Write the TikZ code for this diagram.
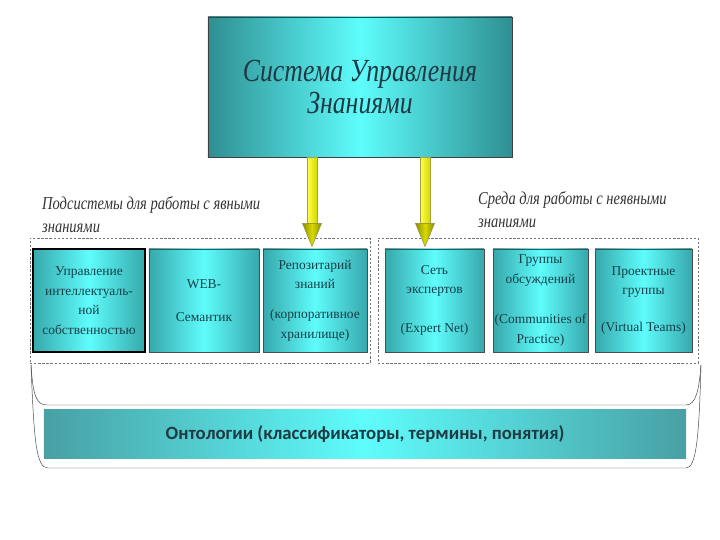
\documentclass[tikz,border=0pt]{standalone}
\usepackage{fontspec}
\setmainfont{Liberation Serif}
\newfontfamily\bandfont{Carlito}
\newfontfamily\narrowit[FakeStretch=0.8]{Liberation Serif Italic}
\definecolor{boxedge}{RGB}{55,168,172}
\definecolor{boxmid}{RGB}{95,252,252}
\definecolor{bandedge}{RGB}{72,160,164}
\definecolor{boxtext}{RGB}{22,62,72}
\definecolor{titletext}{RGB}{30,58,68}
\begin{document}
\begin{tikzpicture}[
    x=0.03cm, y=-0.03cm,
    every node/.style={align=center},
    box/.style={rectangle, draw=black!70, thin, left color=boxedge, right color=boxedge, middle color=boxmid,
        minimum height=3.09cm, inner xsep=1pt, text=boxtext, font=\fontsize{11.5}{16.6}\selectfont},
    grp/.style={rectangle, draw=black!55, dash pattern=on 2pt off 1.5pt, minimum height=3.75cm, inner sep=0pt},
    lbl/.style={anchor=west, align=left, text=black!80, font=\narrowit\fontsize{15.5}{19.5}\selectfont},
    shaft/.style={draw=yellow!60!black, thin, left color=yellow!70!white, right color=yellow!85!black},
    head/.style={draw=yellow!50!black, thin, left color=yellow!55!black, right color=yellow!55!black, middle color=yellow!85!black},
    brace/.style={draw=black!75, thin}
]
\useasboundingbox (0,0) rectangle (720,540);
% main system
\node[rectangle, draw=black!75, thick, left color=boxedge!85!black, right color=boxedge!85!black, middle color=boxmid,
    minimum width=9.12cm, minimum height=4.2cm, text=titletext, font=\narrowit\fontsize{27.5}{27}\selectfont]
    (kms) at (360,87) {Система Управления\\Знаниями};

% group labels
\node[lbl] (explbl) at (38,215) {Подсистемы для работы с явными\\знаниями};
\node[lbl] (tacitlbl) at (474,210) {Среда для работы с неявными\\знаниями};

% dashed groups
\node[grp, minimum width=10.2cm] (expl) at (200,300.5) {};
\node[grp, minimum width=9.6cm] (tacit) at (538,300.5) {};

% subsystems
\node[box, minimum width=3.36cm, draw=black, line width=1.1pt] (ipm) at (89,300.5)
    {Управление\\интеллектуаль-\\ной\\собственностью};
\node[box, minimum width=3.3cm] (web) at (204,300.5) {WEB-\\[12pt]Семантик};
\node[box, minimum width=3.12cm] (repo) at (315,300.5) {Репозитарий\\знаний\\[9pt](корпоративное\\хранилище)};
\node[box, minimum width=2.97cm] (expnet) at (434.5,300.5) {Сеть\\экспертов\\[17pt](Expert Net)};
\node[box, minimum width=2.85cm] (cop) at (540.5,300.5) {Группы\\обсуждений\\[18pt](Communities of\\Practice)};
\node[box, minimum width=2.91cm] (vteam) at (643.5,300.5) {Проектные\\группы\\[15pt](Virtual Teams)};

% arrows
\coordinate (a1) at (kms.south -| 312,0);
\coordinate (a2) at (kms.south -| 425,0);
\foreach \a in {a1,a2}{
  \path[shaft] (\a) ++(-5,0) rectangle ++(10,66);
  \path[head] (\a) ++(-9.5,66) -- ++(19,0) -- ++(-9.5,23) -- cycle;
}

% ontology bracket
\draw[brace] (31,365) .. controls (33,395) and (36,405) .. (47,405) -- (686,405)
    .. controls (696,405) and (699,390) .. (701,365);
\draw[brace] (31,365) .. controls (34,440) and (36,468) .. (48,468) -- (686,468)
    .. controls (696,468) and (699,440) .. (701,365);
\node[rectangle, left color=bandedge, right color=bandedge, middle color=boxmid,
    minimum width=19.26cm, minimum height=1.44cm, text=titletext, font=\bandfont\bfseries\fontsize{16}{18}\selectfont]
    (onto) at (365,434) {Онтологии (классификаторы, термины, понятия)};
\end{tikzpicture}
\end{document}
